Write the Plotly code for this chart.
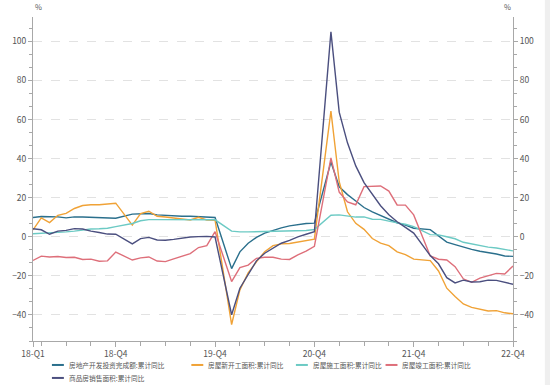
import plotly.graph_objects as go

# ---- data (monthly cumulative YoY, %, Jan-Feb reported as Feb) ----
years = [2018, 2019, 2020, 2021, 2022]
months = [f"{y}-{m:02d}" for y in years for m in range(2, 13)]

invest = [9.9, 10.4, 10.3, 10.2, 9.7, 10.2, 10.1, 9.9, 9.7, 9.7, 9.5,
          11.6, 11.8, 11.9, 11.2, 10.9, 10.6, 10.5, 10.5, 10.3, 10.2, 9.9,
          -16.3, -7.7, -3.3, -0.3, 1.9, 3.4, 4.6, 5.6, 6.3, 6.8, 7.0,
          38.3, 25.6, 21.6, 18.3, 15.0, 12.7, 10.9, 8.8, 7.2, 6.0, 4.4,
          3.7, 0.7, -2.7, -4.0, -5.4, -6.4, -7.4, -8.0, -8.8, -9.8, -10.0]

new_start = [3.5, 9.7, 7.3, 11.0, 12.0, 14.5, 16.0, 16.4, 16.4, 16.8, 17.2,
             6.0, 11.9, 13.1, 10.5, 10.1, 9.5, 8.9, 8.6, 10.0, 8.6, 8.5,
             -44.9, -27.2, -18.4, -12.8, -7.6, -4.5, -3.6, -3.4, -2.6, -2.0, -1.2,
             64.3, 28.2, 12.8, 6.9, 3.8, -0.9, -3.2, -4.5, -7.7, -9.1, -11.4,
             -12.2, -17.5, -26.3, -30.6, -34.4, -36.1, -37.2, -38.0, -37.8, -38.9, -39.4]

construction = [1.6, 1.8, 1.8, 2.2, 2.5, 2.9, 3.6, 4.0, 4.1, 4.4, 5.2,
                6.8, 8.2, 8.8, 8.8, 8.8, 9.0, 8.8, 8.7, 9.0, 8.7, 8.7,
                2.9, 2.5, 2.5, 2.6, 2.6, 2.9, 3.1, 3.1, 3.2, 3.2, 3.7,
                11.0, 11.2, 10.5, 10.1, 10.2, 9.0, 8.9, 7.9, 7.1, 6.4, 5.2,
                1.1, 1.0, 0.0, -1.0, -2.8, -3.7, -4.5, -5.3, -5.7, -6.5, -7.2]

completion = [-12.1, -9.9, -10.3, -10.1, -10.6, -10.5, -11.6, -11.4, -12.5, -12.3, -7.8,
              -11.9, -10.8, -10.3, -12.4, -12.7, -11.3, -10.0, -8.6, -5.5, -4.5, 2.6,
              -22.9, -15.8, -14.5, -11.0, -10.5, -10.5, -11.4, -11.6, -9.2, -7.3, -4.9,
              40.4, 22.9, 17.9, 16.4, 25.7, 25.7, 26.0, 23.4, 16.3, 16.2, 11.2,
              -9.8, -11.5, -11.9, -15.3, -21.5, -23.3, -21.1, -19.9, -18.7, -19.0, -15.0]

sales = [4.1, 3.6, 1.3, 2.9, 3.3, 4.2, 4.0, 2.9, 2.2, 1.4, 1.3,
         -3.6, -0.9, -0.3, -1.6, -1.8, -1.3, -0.6, -0.1, 0.1, 0.2, -0.1,
         -39.9, -26.3, -19.3, -12.3, -8.4, -5.8, -3.3, -1.8, 0.0, 1.3, 2.6,
         104.9, 63.8, 48.1, 36.3, 27.7, 21.5, 15.9, 11.3, 7.7, 4.8, 1.9,
         -9.6, -13.8, -20.9, -23.6, -22.2, -23.1, -23.0, -22.2, -22.3, -23.3, -24.3]

series_names = ["房地产开发投资完成额:累计同比", "房屋新开工面积:累计同比",
                "房屋施工面积:累计同比", "房屋竣工面积:累计同比",
                "商品房销售面积:累计同比"]
tick_labels = ["18-Q1", "18-Q4", "19-Q4", "20-Q4", "21-Q4", "22-Q4"]
tick_months = ["2018-02", "2018-12", "2019-12", "2020-12", "2021-12", "2022-12"]


def month_index(s):
    y, m = s.split("-")
    return (int(y) - 2018) * 12 + int(m) - 2


x = [month_index(s) for s in months]
tickvals = [month_index(s) for s in tick_months]

colors = ["#2a6f8c", "#f0a236", "#6ccac4", "#de6f7a", "#4b4f7f"]
values = [invest, new_start, construction, completion, sales]

FONT = "Noto Sans CJK SC, Noto Sans, sans-serif"
GRID = "#e2e2e2"
AX = "#a8a8a8"
TXT = "#555555"

fig = go.Figure()
for name, vals, c in zip(series_names, values, colors):
    fig.add_trace(go.Scatter(x=x, y=vals, mode="lines", name=name,
                             line=dict(color=c, width=1.4), showlegend=False))
# invisible trace to attach right axis
fig.add_trace(go.Scatter(x=x, y=sales, mode="lines", yaxis="y2",
                         line=dict(width=0), opacity=0, showlegend=False,
                         hoverinfo="skip"))

yr = [-53.33, 112.5]
ymaj = [-40, -20, 0, 20, 40, 60, 80, 100]
fig.update_layout(
    width=550, height=385,
    margin=dict(l=31, r=37, t=16.5, b=44),
    paper_bgcolor="white", plot_bgcolor="white",
    font=dict(family=FONT, size=8, color=TXT),
    xaxis=dict(range=[0, month_index("2022-12")], tickvals=tickvals, ticktext=tick_labels,
               showgrid=False, zeroline=False, showline=True, linecolor=AX, linewidth=1,
               ticks="outside", ticklen=5, tickcolor=AX,
               minor=dict(tick0=1, dtick=3, ticks="outside", ticklen=4, tickcolor=AX),
               tickfont=dict(size=8.5, color=TXT)),
    yaxis=dict(range=yr, tickvals=ymaj, showgrid=True, gridcolor=GRID, griddash="dash",
               gridwidth=1, zeroline=False, showline=True, linecolor=AX, linewidth=1,
               ticks="outside", ticklen=4, tickcolor=AX,
               minor=dict(tick0=0, dtick=20 / 3, ticks="outside", ticklen=3, tickcolor=AX),
               tickfont=dict(size=8.5, color=TXT)),
    yaxis2=dict(range=yr, tickvals=ymaj, overlaying="y", side="right", showgrid=False,
                zeroline=False, showline=True, linecolor=AX, linewidth=1,
                ticks="outside", ticklen=4, tickcolor=AX,
                minor=dict(tick0=0, dtick=20 / 3, ticks="outside", ticklen=3, tickcolor=AX),
                tickfont=dict(size=8.5, color=TXT)),
)

# unit labels
for xp in (0, 1):
    fig.add_annotation(x=xp, y=1.0, xref="paper", yref="paper", text="%",
                       showarrow=False, yanchor="bottom", yshift=3,
                       font=dict(size=7.5, color=TXT))

# manual legend (positions in page pixels)
W, H = 482, 324.5
leg_pos = [(50, 365), (190, 365), (295, 365), (385, 365), (50, 378)]
for (px, py), name, c in zip(leg_pos, series_names, colors):
    x0 = (px - 31) / W
    x1 = (px + 12 - 31) / W
    yy = (341 - py) / H
    fig.add_shape(type="line", xref="paper", yref="paper", x0=x0, x1=x1, y0=yy, y1=yy,
                  line=dict(color=c, width=2))
    fig.add_annotation(x=(px + 15 - 31) / W, y=yy, xref="paper", yref="paper",
                       text=name, showarrow=False, xanchor="left", yanchor="middle",
                       font=dict(size=6.7, color=TXT))

# light grey strip at right edge
fig.add_shape(type="rect", xref="paper", yref="paper", x0=(545 - 31) / W, x1=(560 - 31) / W,
              y0=(341 - 400) / H, y1=(341 + 20) / H, fillcolor="#efefef", line=dict(width=0),
              layer="above")

fig.write_html("out.html", config={"displayModeBar": False},
               post_script="document.body.style.margin='0';document.body.style.overflow='hidden';")
